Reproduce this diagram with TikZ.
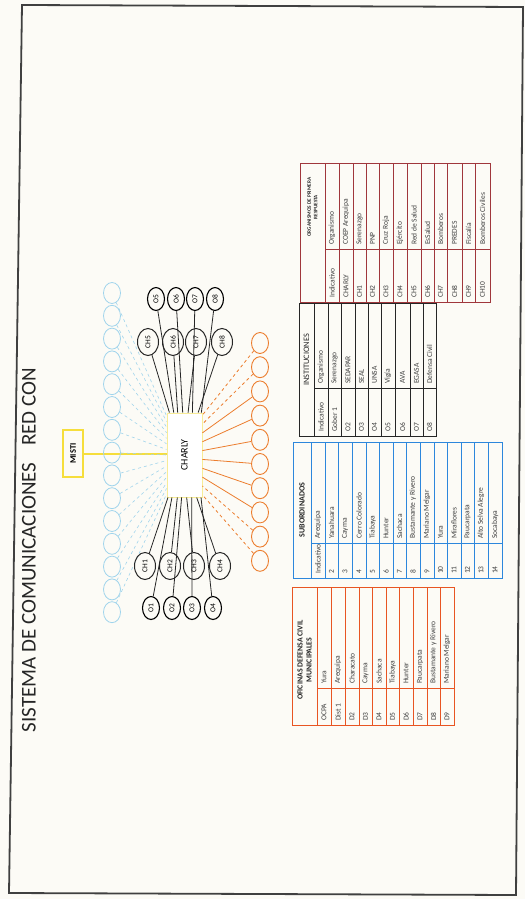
\documentclass[tikz,border=0pt]{standalone}
\usepackage{fontspec}
\setmainfont{Carlito}
\usetikzlibrary{shapes.geometric,calc}
\definecolor{paper}{RGB}{252,251,246}
\definecolor{cyl}{RGB}{160,212,236}
\definecolor{org}{RGB}{236,125,45}
\definecolor{redt}{RGB}{160,55,60}
\definecolor{bluet}{RGB}{45,135,220}
\definecolor{orgt}{RGB}{232,85,35}
\definecolor{ylw}{RGB}{246,222,60}
\definecolor{ylwl}{RGB}{248,236,150}
\begin{document}
\begin{tikzpicture}[x=1pt,y=-1pt,
  chnode/.style={ellipse, draw=black!85, line width=1pt, minimum width=21pt, minimum height=27pt, inner sep=0pt, font=\fontsize{7.5}{8}\selectfont},
  onode/.style={ellipse, draw=black, line width=1.1pt, minimum width=17pt, minimum height=23pt, inner sep=0pt, font=\fontsize{7.5}{8}\selectfont},
  cnode/.style={ellipse, draw=cyl, line width=0.8pt, minimum width=17pt, minimum height=21pt, inner sep=0pt},
  ornode/.style={ellipse, draw=org, line width=0.9pt, minimum width=17pt, minimum height=21pt, inner sep=0pt},
  blkline/.style={draw=black!85, line width=0.8pt},
  cel/.style={rotate=90, anchor=west, inner sep=0pt, font=\fontsize{7.5}{8}\selectfont, text=black!75},
  hdr/.style={rotate=90, inner sep=0pt, align=center, text=black!85},
]
\fill[paper] (0,0) rectangle (525,899);
\useasboundingbox (0,0) rectangle (525,899);
\draw[black!75, line width=1.8pt] (22,5) -- (523,7) -- (516,895) -- (9,893) -- cycle;

% title
\node[rotate=90, font=\fontsize{21}{23}\selectfont, text=black!85] (title) at (29,550) {SISTEMA DE COMUNICACIONES\hspace{0.8em}RED CON};

% central nodes
\node[draw=ylwl, line width=0.9pt, fill=white, minimum width=35pt, minimum height=84pt, inner sep=0pt] (charly) at (184.5,455) {\rotatebox{90}{\fontsize{10}{10}\selectfont CHARLY}};
\node[draw=ylw, line width=1.2pt, minimum width=20pt, minimum height=47pt, inner sep=0pt] (misti) at (73,453.5) {\rotatebox{90}{\fontsize{8.5}{9}\selectfont\bfseries MISTI}};
\draw[ylw, line width=2pt] (misti.east) -- (misti.east -| charly.west);

% cyan circles
\foreach \i [evaluate=\i as \ff using 0.04+0.92*\i/14, evaluate=\i as \yy using 293+22.8*\i] in {0,...,14} {
  \node[cnode] (c\i) at (112,\yy) {};
  \draw[cyl, dashed, line width=0.6pt] (c\i) -- ($(charly.north west)!\ff!(charly.south west)$);
}
% orange circles
\foreach \i/\st [evaluate=\i as \ff using 0.03+0.94*\i/9, evaluate=\i as \yy using 343+24.2*\i] in {0/dashed,1/dashed,2/solid,3/solid,4/solid,5/solid,6/solid,7/solid,8/dashed,9/dashed} {
  \node[ornode] (r\i) at (260,\yy) {};
  \draw[org, \st, line width=0.8pt] (r\i) -- ($(charly.north east)!\ff!(charly.south east)$);
}

% top group
\foreach \n/\x/\f in {5/148/0.08, 6/173/0.31, 7/196/0.6, 8/222/0.88} {
  \node[chnode] (ch\n) at (\x,342) {\rotatebox{90}{CH\n}};
  \draw[blkline] (ch\n) -- ($(charly.north west)!\f!(charly.north east)$);
}
\foreach \n/\x/\f in {5/156/0.2, 6/176/0.45, 7/195/0.72, 8/215/0.97} {
  \node[onode] (o\n) at (\x,299) {\rotatebox{90}{O\n}};
  \draw[blkline] (o\n) -- ($(charly.north west)!\f!(charly.north east)$);
}
% bottom group
\foreach \n/\x/\f in {1/145/0.04, 2/170/0.3, 3/194/0.56, 4/220/0.84} {
  \node[chnode] (ch\n) at (\x,566) {\rotatebox{90}{CH\n}};
  \draw[blkline] (ch\n) -- ($(charly.south west)!\f!(charly.south east)$);
}
\foreach \n/\x/\f in {1/151/0.15, 2/172/0.42, 3/192/0.7, 4/213/0.96} {
  \node[onode] (o\n) at (\x,608) {\rotatebox{90}{O\n}};
  \draw[blkline] (o\n) -- ($(charly.south west)!\f!(charly.south east)$);
}

% ---------- red table ----------
\draw[redt, line width=1pt] (300,163) rectangle (490,302);
\foreach \x in {325,339,353,366,379,393,407,421,434,447,462,475} \draw[redt, line width=0.8pt] (\x,163) -- (\x,302);
\draw[redt, line width=0.8pt] (325,249) -- (490,249);
\node[hdr, font=\bfseries\fontsize{5.2}{6.5}\selectfont] (rh) at (312.5,207) {ORGANISMOS DE PRIMERA\\RESPUESTA};
\foreach \x/\a/\b [count=\k] in {332/Indicativo/Organismo, 346/CHARLY/COEP Arequipa, 359.5/CH1/Serenazgo, 372.5/CH2/PNP, 386/CH3/Cruz Roja, 400/CH4/Ejército, 414/CH5/Red de Salud, 427.5/CH6/EsSalud, 440.5/CH7/Bomberos, 454.5/CH8/PREDES, 468.5/CH9/Fiscalía, 482.5/CH10/Bomberos Civiles} {
  \node[cel] (ra\k) at (\x,298) {\a};
  \node[cel] (rb\k) at (\x,245) {\b};
}

% ---------- black table ----------
\draw[black!85, line width=1pt] (299,303) rectangle (436,436);
\foreach \x in {314,328,341,355,368,381,395,410,423} \draw[black!85, line width=0.8pt] (\x,303) -- (\x,436);
\draw[black!85, line width=0.8pt] (314,388) -- (436,388);
\node[hdr, font=\fontsize{8.3}{9}\selectfont] (ih) at (306.5,360) {INSTITUCIONES};
\foreach \x/\a/\b [count=\k] in {321/Indicativo/Organismo, 334.5/Gober 1/Serenazgo, 348/O2/SEDAPAR, 361.5/O3/SEAL, 374.5/O4/UNSA, 388/O5/Vigía, 402.5/O6/AVA, 416.5/O7/EGASA, 429.5/O8/Defensa Civil} {
  \node[cel] (ia\k) at (\x,432) {\a};
  \node[cel] (ib\k) at (\x,384) {\b};
}

% ---------- blue table ----------
\draw[bluet, line width=1pt] (293,442) rectangle (502,578);
\foreach \x in {311,325,338,352,366,379,393,406,420,434,447,461,474,488} \draw[bluet, line width=0.8pt] (\x,442) -- (\x,578);
\draw[bluet, line width=0.8pt] (311,543) -- (502,543);
\node[hdr, font=\bfseries\fontsize{8}{9}\selectfont] (sh) at (302,510) {SUBORDINADOS};
\foreach \x/\a/\b [count=\k] in {318/Indicativo/Arequipa, 331.5/2/Yanahuara, 345/3/Cayma, 359/4/Cerro Colorado, 372.5/5/Tiabaya, 386/6/Hunter, 399.5/7/Sachaca, 413/8/Bustamante y Rivero, 427/9/Mariano Melgar, 440.5/10/Yura, 454/11/Miraflores, 467.5/12/Paucarpata, 481/13/Alto Selva Alegre, 495/14/Socabaya} {
  \node[cel] (sa\k) at (\x,574) {\a};
  \node[cel] (sb\k) at (\x,539) {\b};
}

% ---------- orange table ----------
\draw[orgt, line width=1pt] (292,587) rectangle (454,725);
\foreach \x in {317,331,345,359,372,386,399,413,427,440} \draw[orgt, line width=0.8pt] (\x,587) -- (\x,725);
\draw[orgt, line width=0.8pt] (317,688) -- (454,688);
\node[hdr, font=\bfseries\fontsize{7.8}{9}\selectfont] (oh) at (304.5,660) {OFICINAS DEFENSA CIVIL\\MUNICIPALES};
\foreach \x/\a/\b [count=\k] in {324/OCPA/Yura, 338/Dist 1/Arequipa, 352/D2/Characato, 365.5/D3/Cayma, 379/D4/Sachaca, 392.5/D5/Tiabaya, 406/D6/Hunter, 420/D7/Paucarpata, 433.5/D8/Bustamante y Rivero, 447/D9/Mariano Melgar} {
  \node[cel] (da\k) at (\x,721) {\a};
  \node[cel] (db\k) at (\x,684) {\b};
}
\end{tikzpicture}
\end{document}
